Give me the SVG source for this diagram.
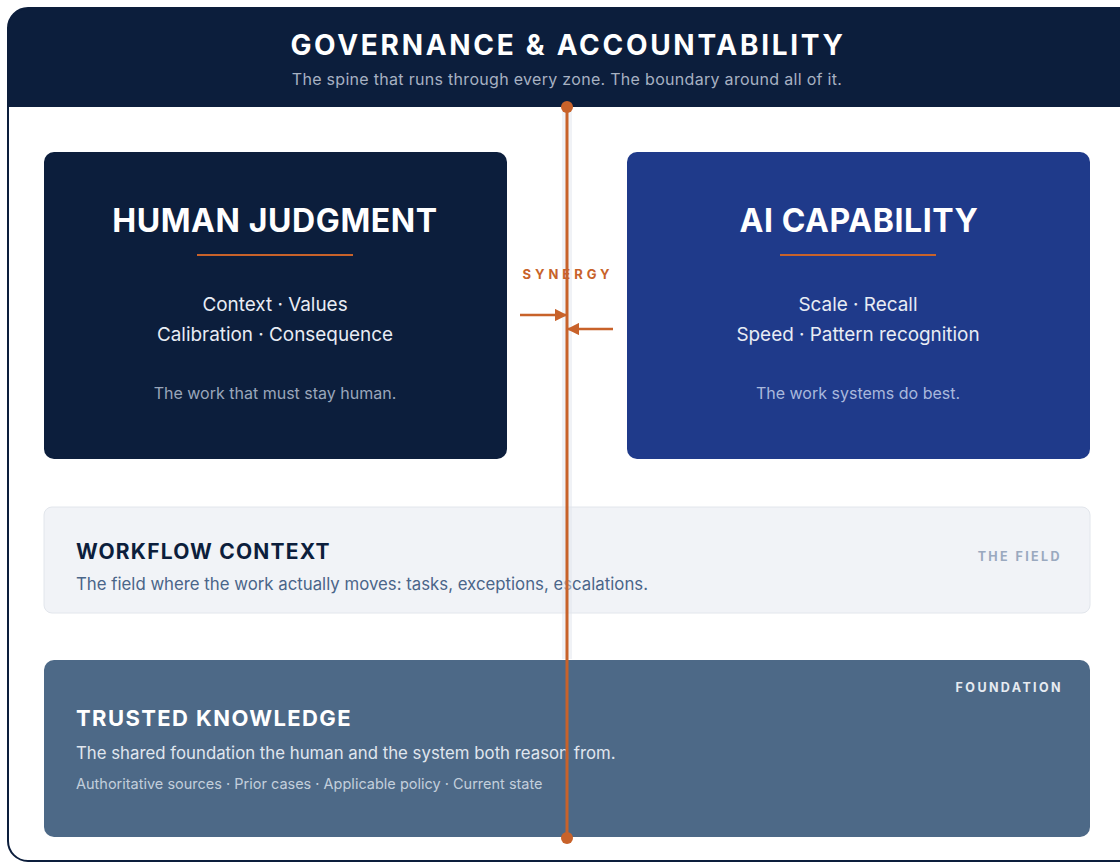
<svg xmlns="http://www.w3.org/2000/svg" width="1120" height="863" viewBox="0 0 1120 863">
  <defs>
    <style>
      text { font-family: Inter, "Noto Sans", "Liberation Sans", sans-serif; }
      .hdr-title { font-size: 28px; font-weight: 700; fill: #ffffff; letter-spacing: 2.7px; text-anchor: middle; }
      .hdr-sub { font-size: 16px; fill: #a7b1c2; letter-spacing: 0.3px; text-anchor: middle; }
      .big-title { font-size: 32px; font-weight: 700; fill: #ffffff; text-anchor: middle; letter-spacing: 0.6px; }
      .trait { font-size: 18.9px; fill: #e8ecf4; text-anchor: middle; }
      .note { font-size: 16px; text-anchor: middle; }
      .zone-title { font-size: 21px; font-weight: 700; letter-spacing: 1.2px; }
      .zone-sub { font-size: 16.8px; }
      .tag { font-size: 12.5px; font-weight: 700; letter-spacing: 2.4px; text-anchor: end; }
      .spine { stroke: #c8622a; stroke-width: 3; }
      .spine-halo { stroke: #e3e7ee; stroke-width: 10; opacity: 0.5; }
      .arrow { stroke: #c8622a; stroke-width: 2.5; fill: none; }
    </style>
    <marker id="head" viewBox="0 0 10 10" refX="9" refY="5" markerWidth="5" markerHeight="5" markerUnits="strokeWidth" orient="auto">
      <path d="M0,0 L10,5 L0,10 Z" fill="#c8622a"/>
    </marker>
    <clipPath id="frameClip">
      <rect x="8" y="8" width="1132" height="853" rx="20"/>
    </clipPath>
  </defs>

  <rect x="0" y="0" width="1120" height="863" fill="#ffffff"/>

  <!-- outer boundary with governance header band -->
  <g id="governance">
    <rect x="8" y="8" width="1132" height="853" rx="20" fill="#ffffff"/>
    <rect x="8" y="8" width="1132" height="99" fill="#0c1e3c" clip-path="url(#frameClip)"/>
    <rect x="8" y="8" width="1132" height="853" rx="20" fill="none" stroke="#0c1e3c" stroke-width="2"/>
    <text class="hdr-title" x="568" y="55">GOVERNANCE &amp; ACCOUNTABILITY</text>
    <text class="hdr-sub" x="567" y="85">The spine that runs through every zone. The boundary around all of it.</text>
  </g>

  <g id="human-judgment">
    <rect x="44" y="152" width="463" height="307" rx="10" fill="#0c1e3c"/>
    <text class="big-title" x="275" y="232">HUMAN JUDGMENT</text>
    <line x1="197" y1="255" x2="353" y2="255" stroke="#c8622a" stroke-width="2"/>
    <text class="trait" x="275" y="311">Context · Values</text>
    <text class="trait" x="275" y="341">Calibration · Consequence</text>
    <text class="note" x="275" y="399" fill="#9aa6ba">The work that must stay human.</text>
  </g>

  <g id="ai-capability">
    <rect x="627" y="152" width="463" height="307" rx="10" fill="#1f3a8a"/>
    <text class="big-title" x="859" y="232">AI CAPABILITY</text>
    <line x1="780" y1="255" x2="936" y2="255" stroke="#c8622a" stroke-width="2"/>
    <text class="trait" x="858" y="311">Scale · Recall</text>
    <text class="trait" x="858" y="341">Speed · Pattern recognition</text>
    <text class="note" x="858" y="399" fill="#a9b8dc">The work systems do best.</text>
  </g>

  <g id="workflow-context">
    <rect x="44" y="507" width="1046" height="106" rx="8" fill="#f1f3f7" stroke="#e2e6ec" stroke-width="1"/>
    <text class="zone-title" x="76" y="559" fill="#0c1e3c">WORKFLOW CONTEXT</text>
    <text class="zone-sub" x="76" y="590" fill="#4a6589">The field where the work actually moves: tasks, exceptions, escalations.</text>
    <text class="tag" x="1062" y="561" fill="#9aa9bf">THE FIELD</text>
  </g>

  <g id="trusted-knowledge">
    <rect x="44" y="660" width="1046" height="177" rx="10" fill="#4d6987"/>
    <text class="tag" x="1063" y="692" fill="#e6ebf1">FOUNDATION</text>
    <text class="zone-title" x="76" y="726" fill="#ffffff" style="font-size:22px;letter-spacing:1.4px">TRUSTED KNOWLEDGE</text>
    <text class="zone-sub" x="76" y="759" fill="#e0e6ee">The shared foundation the human and the system both reason from.</text>
    <text x="76" y="789" fill="#c3cfdc" style="font-size:14.5px">Authoritative sources · Prior cases · Applicable policy · Current state</text>
  </g>

  <!-- governance spine and synergy arrows -->
  <g id="connectors">
    <line class="spine-halo" x1="567" y1="110" x2="567" y2="659"/>
    <line class="spine" x1="567" y1="107" x2="567" y2="838"/>
    <circle cx="567" cy="107" r="6" fill="#c8622a"/>
    <circle cx="567" cy="838" r="6" fill="#c8622a"/>
    <text x="568" y="279" fill="#c8622a" text-anchor="middle" style="font-size:13px;font-weight:700;letter-spacing:4px">SYNERGY</text>
    <line class="arrow" x1="520" y1="315" x2="566" y2="315" marker-end="url(#head)"/>
    <line class="arrow" x1="613" y1="329" x2="568" y2="329" marker-end="url(#head)"/>
  </g>
</svg>
